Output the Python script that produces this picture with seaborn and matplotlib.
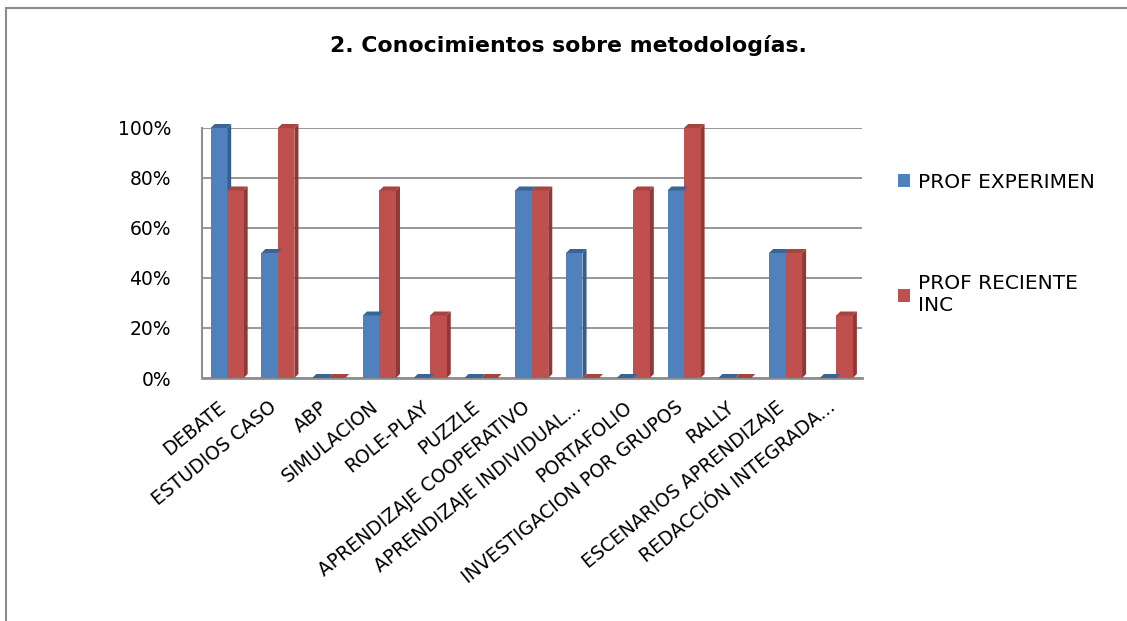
import matplotlib.pyplot as plt
import seaborn as sns
import pandas as pd
from matplotlib.patches import Polygon, Patch
from matplotlib.lines import Line2D
from matplotlib.transforms import ScaledTranslation

# data
categories = ["DEBATE", "ESTUDIOS CASO", "ABP", "SIMULACION", "ROLE-PLAY", "PUZZLE",
              "APRENDIZAJE COOPERATIVO", "APRENDIZAJE INDIVIDUAL...", "PORTAFOLIO",
              "INVESTIGACION POR GRUPOS", "RALLY", "ESCENARIOS APRENDIZAJE",
              "REDACCIÓN INTEGRADA..."]
prof_experimen = [100, 50, 0, 25, 0, 0, 75, 50, 0, 75, 0, 50, 0]
prof_reciente = [75, 100, 0, 75, 25, 0, 75, 0, 75, 100, 0, 50, 25]
series_names = ["PROF EXPERIMEN", "PROF RECIENTE\nINC"]
y_ticks = [0, 20, 40, 60, 80, 100]
title = "2. Conocimientos sobre metodologías."

colors = ["#4F81BD", "#C0504D"]
side_colors = ["#385D8A", "#8C3A38"]
top_colors = ["#3A6496", "#A64442"]

df = pd.DataFrame({"categoria": categories,
                   series_names[0]: prof_experimen,
                   series_names[1]: prof_reciente})
df = df.melt(id_vars="categoria", var_name="serie", value_name="valor")

sns.set_style("white")
plt.rcParams['font.family'] = ['DejaVu Sans']
plt.rcParams['text.color'] = 'black'
plt.rcParams['xtick.color'] = 'black'
plt.rcParams['ytick.color'] = 'black'

fig = plt.figure(figsize=(11.27, 6.21), dpi=100)
ax = fig.add_axes([0.179, 0.3913, 0.5856, 0.4026])

sns.barplot(data=df, x="categoria", y="valor", hue="serie", palette=colors,
            width=0.65, saturation=1, legend=False, ax=ax, zorder=3)

ax.set_ylim(0, 100)
ax.set_xlim(-0.5, len(categories) - 0.5)

# fake 3D depth on every bar
dx, dy = 0.08, 1.6
n = len(categories)
for i, bar in enumerate(ax.patches[:2 * n]):
    s = i // n
    bar.set_edgecolor("none")
    x0 = bar.get_x()
    x1 = x0 + bar.get_width()
    h = bar.get_height()
    side = Polygon([(x1, 0), (x1 + dx, dy), (x1 + dx, h + dy), (x1, h)],
                   closed=True, facecolor=side_colors[s], edgecolor="none",
                   zorder=2.9, clip_on=False)
    top = Polygon([(x0, h), (x0 + dx, h + dy), (x1 + dx, h + dy), (x1, h)],
                  closed=True, facecolor=top_colors[s], edgecolor="none",
                  zorder=3.1, clip_on=False)
    ax.add_patch(side)
    ax.add_patch(top)

for v in y_ticks:
    ax.axhline(v, color="#8F8F8F", lw=1.3, zorder=1)

for sp in ["top", "right"]:
    ax.spines[sp].set_visible(False)
ax.spines["left"].set_color("#8F8F8F")
ax.spines["left"].set_linewidth(1.5)
ax.spines["bottom"].set_color("#8F8F8F")
ax.spines["bottom"].set_linewidth(2)

ax.set_yticks(y_ticks)
ax.set_yticklabels([f"{v}%" for v in y_ticks], fontsize=13.5)
ax.tick_params(axis="y", length=0, pad=22)
ax.tick_params(axis="x", length=0, pad=14)
ax.set_xticks(range(n))
ax.set_xticklabels(categories, rotation=39, ha="right", rotation_mode="anchor",
                   fontsize=13.5)
shift = ScaledTranslation(-7 / 72, 0, fig.dpi_scale_trans)
for lab in ax.get_xticklabels():
    lab.set_transform(lab.get_transform() + shift)
ax.set_xlabel("")
ax.set_ylabel("")

fig.text(0.504, 0.927, title, ha="center", va="center", fontsize=15.8,
         fontweight="bold")

handles = [Patch(facecolor=c, edgecolor="none") for c in colors]
fig.legend(handles, series_names, loc="upper left",
           bbox_to_anchor=(0.781, 0.751), frameon=False, fontsize=14.5,
           handlelength=0.6, handleheight=0.6, handletextpad=0.4,
           labelspacing=4.1)

# chart border (only top and left visible in the reference)
fig.add_artist(Line2D([6 / 1127, 1], [1 - 8 / 621, 1 - 8 / 621],
                      color="#8C8C8C", lw=1.5))
fig.add_artist(Line2D([6 / 1127, 6 / 1127], [0, 1 - 8 / 621],
                      color="#8C8C8C", lw=1.5))

fig.savefig("out.png", dpi=100)
